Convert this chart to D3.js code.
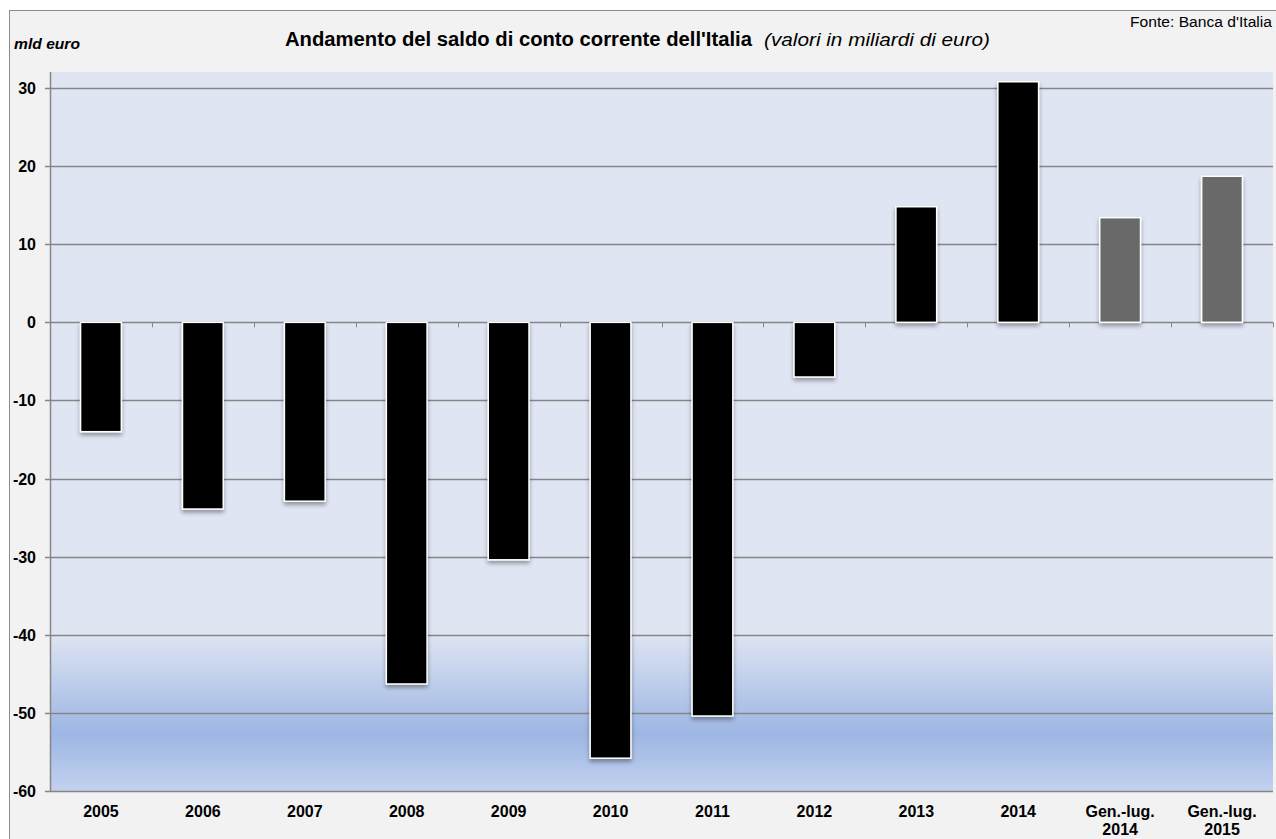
<!DOCTYPE html>
<html lang="it">
<head>
<meta charset="UTF-8">
<script src="https://cdn.jsdelivr.net/npm/d3@7"></script>
<title>Saldo di conto corrente</title>
<style>
    body { margin: 0; background: #fff; }
    text { font-family: "Liberation Sans", Arial, sans-serif; }
</style>
</head>
<body>
<div id="chart"></div>
<script>
    // categories and values (mld euro)
    const categories = ["2005", "2006", "2007", "2008", "2009", "2010", "2011", "2012", "2013", "2014", "Gen.-lug.|2014", "Gen.-lug.|2015"];
    const values = [-14.0, -23.9, -22.9, -46.3, -30.4, -55.8, -50.4, -7.0, 14.8, 30.8, 13.4, 18.7];
    const partialYear = [false, false, false, false, false, false, false, false, false, false, true, true];
    const yTicks = [-60, -50, -40, -30, -20, -10, 0, 10, 20, 30];

    const W = 1276, H = 839;
    const plot = { left: 50, right: 1273, top: 72, bottom: 791 };

    const svg = d3.select("#chart").append("svg")
        .attr("width", W)
        .attr("height", H);

    const defs = svg.append("defs");

    // background gradient of the plot area
    const grad = defs.append("linearGradient")
        .attr("id", "bg").attr("x1", 0).attr("x2", 0).attr("y1", 0).attr("y2", 1);
    const gStops = [
        [0, "#dfe5f3"], [0.78, "#dfe5f3"], [0.92, "#9db6e3"], [1, "#c3d1ef"]
    ];
    gStops.forEach(s => grad.append("stop").attr("offset", s[0]).attr("stop-color", s[1]));

    const shadow = defs.append("filter").attr("id", "shadow")
        .attr("x", "-20%").attr("y", "-20%").attr("width", "140%").attr("height", "140%");
    shadow.append("feDropShadow")
        .attr("dx", 0).attr("dy", 3)
        .attr("stdDeviation", 2)
        .attr("flood-color", "#000")
        .attr("flood-opacity", 0.35);

    // chart area
    svg.append("rect")
        .attr("x", 9.5).attr("y", 10.5)
        .attr("width", W + 10).attr("height", H + 10)
        .attr("fill", "#f2f2f2")
        .attr("stroke", "#8c8c8c");

    svg.append("rect")
        .attr("x", plot.left).attr("y", plot.top)
        .attr("width", plot.right - plot.left)
        .attr("height", plot.bottom - plot.top)
        .attr("fill", "url(#bg)");

    const x = d3.scaleBand()
        .domain(categories)
        .range([plot.left, plot.right])
        .paddingInner(0.6)
        .paddingOuter(0.3);

    const xOuter = d3.scaleBand()
        .domain(categories)
        .range([plot.left, plot.right]);

    const y = d3.scaleLinear()
        .domain([-60, 30])
        .range([plot.bottom, 88]);

    // gridlines
    svg.append("g")
        .selectAll("line")
        .data(yTicks)
        .enter()
        .append("line")
        .attr("x1", plot.left - 5).attr("x2", plot.right)
        .attr("y1", d => Math.round(y(d)) + 0.5)
        .attr("y2", d => Math.round(y(d)) + 0.5)
        .attr("stroke", "#868686")
        .attr("stroke-width", 1.5);

    // y axis line
    svg.append("line")
        .attr("x1", plot.left + 0.5).attr("x2", plot.left + 0.5)
        .attr("y1", plot.top).attr("y2", plot.bottom)
        .attr("stroke", "#868686")
        .attr("stroke-width", 1.5);

    // y tick labels
    svg.append("g")
        .selectAll("text")
        .data(yTicks)
        .enter()
        .append("text")
        .attr("x", 36)
        .attr("y", d => y(d) + 6)
        .attr("text-anchor", "end")
        .attr("font-size", 16)
        .attr("font-weight", "bold")
        .attr("fill", "#000")
        .text(d => d);

    // category ticks on zero line
    svg.append("g")
        .selectAll("line")
        .data(categories)
        .enter()
        .append("line")
        .attr("x1", d => Math.round(xOuter(d) + xOuter.bandwidth()) + 0.5)
        .attr("x2", d => Math.round(xOuter(d) + xOuter.bandwidth()) + 0.5)
        .attr("y1", y(0)).attr("y2", y(0) + 5)
        .attr("stroke", "#868686")
        .attr("stroke-width", 1);

    // bars
    svg.append("g")
        .selectAll("rect")
        .data(values)
        .enter()
        .append("rect")
        .attr("x", (d, i) => x(categories[i]))
        .attr("width", x.bandwidth())
        .attr("y", d => y(Math.max(0, d)))
        .attr("height", d => Math.abs(y(d) - y(0)))
        .attr("fill", (d, i) => partialYear[i] ? "#696969" : "#000")
        .attr("stroke", "#ffffff")
        .attr("stroke-width", 1.5)
        .attr("filter", "url(#shadow)");

    // x labels
    const xl = svg.append("g")
        .selectAll("text")
        .data(categories)
        .enter()
        .append("text")
        .attr("x", d => xOuter(d) + xOuter.bandwidth() / 2)
        .attr("y", 817)
        .attr("text-anchor", "middle")
        .attr("font-size", 16)
        .attr("font-weight", "bold")
        .attr("fill", "#000");
    xl.each(function (d) {
        const parts = d.split("|");
        const t = d3.select(this);
        parts.forEach((p, k) => {
            t.append("tspan")
                .attr("x", xOuter(d) + xOuter.bandwidth() / 2)
                .attr("dy", k === 0 ? 0 : 18)
                .text(p);
        });
    });

    // titles
    svg.append("text")
        .attr("x", 285).attr("y", 46)
        .attr("font-size", 20)
        .attr("font-weight", "bold")
        .attr("textLength", 467)
        .attr("lengthAdjust", "spacingAndGlyphs")
        .text("Andamento del saldo di conto corrente dell'Italia");

    svg.append("text")
        .attr("x", 764).attr("y", 46)
        .attr("font-size", 18)
        .attr("font-style", "italic")
        .attr("textLength", 226)
        .attr("lengthAdjust", "spacingAndGlyphs")
        .text("(valori in miliardi di euro)");

    svg.append("text")
        .attr("x", 14).attr("y", 49)
        .attr("font-size", 15)
        .attr("font-weight", "bold")
        .attr("font-style", "italic")
        .attr("textLength", 66)
        .attr("lengthAdjust", "spacingAndGlyphs")
        .text("mld euro");

    svg.append("text")
        .attr("x", 1130).attr("y", 27)
        .attr("font-size", 14)
        .attr("textLength", 142)
        .attr("lengthAdjust", "spacingAndGlyphs")
        .text("Fonte: Banca d'Italia");
</script>
</body>
</html>
